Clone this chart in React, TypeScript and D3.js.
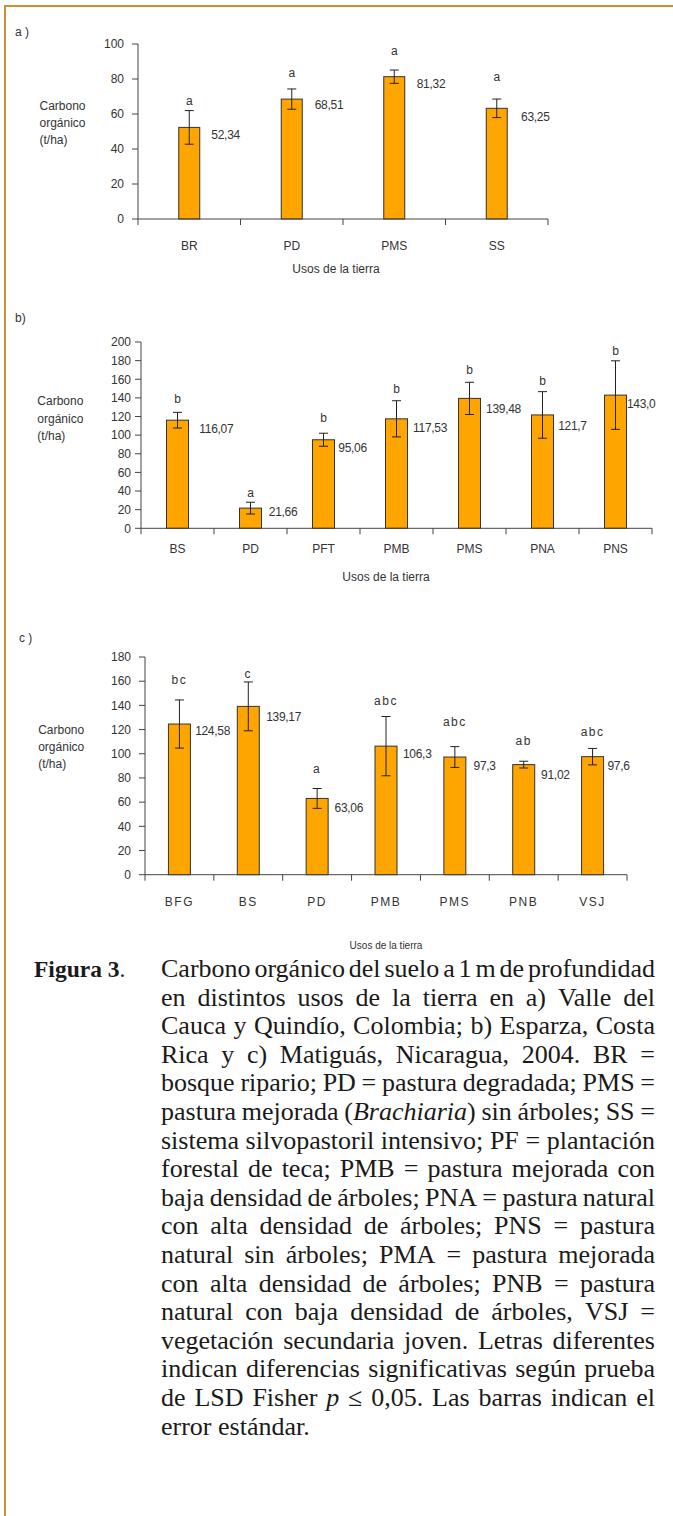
import React, { useMemo } from 'react';
import * as d3 from 'd3';

// ---------- Panel a ----------
const catsA = ['BR', 'PD', 'PMS', 'SS'];
const valsA = [52.34, 68.51, 81.32, 63.25];
const errA = [9.6, 5.8, 3.8, 5.3];
const lettersA = ['a', 'a', 'a', 'a'];
const labelsA = ['52,34', '68,51', '81,32', '63,25'];
const ticksA = [0, 20, 40, 60, 80, 100];
const letterYA = [67.6, 83.6, 96.2, 81.3];

// ---------- Panel b ----------
const catsB = ['BS', 'PD', 'PFT', 'PMB', 'PMS', 'PNA', 'PNS'];
const valsB = [116.07, 21.66, 95.06, 117.53, 139.48, 121.7, 143.0];
const errB = [8.4, 6.3, 7, 19.4, 17.3, 25, 36.8];
const lettersB = ['b', 'a', 'b', 'b', 'b', 'b', 'b'];
const labelsB = ['116,07', '21,66', '95,06', '117,53', '139,48', '121,7', '143,0'];
const ticksB = [0, 20, 40, 60, 80, 100, 120, 140, 160, 180, 200];
const letterYB = [138.9, 38.2, 118.7, 149.5, 169.9, 158.4, 190.3];

// ---------- Panel c ----------
const catsC = ['BFG', 'BS', 'PD', 'PMB', 'PMS', 'PNB', 'VSJ'];
const valsC = [124.58, 139.17, 63.06, 106.3, 97.3, 91.02, 97.6];
const errC = [19.9, 20.2, 8.2, 24.5, 8.6, 2.8, 6.8];
const lettersC = ['bc', 'c', 'a', 'abc', 'abc', 'ab', 'abc'];
const labelsC = ['124,58', '139,17', '63,06', '106,3', '97,3', '91,02', '97,6'];
const ticksC = [0, 20, 40, 60, 80, 100, 120, 140, 160, 180];
const letterYC = [160.8, 166, 87.7, 143.9, 126, 110.3, 118.3];

const yTitleLines = ['Carbono', 'orgánico', '(t/ha)'];
const xTitle = 'Usos de la tierra';

const captionHead = 'Figura 3';
const captionLines = [
  'Carbono orgánico del suelo a 1 m de profundidad',
  'en distintos usos de la tierra en a) Valle del',
  'Cauca y Quindío, Colombia; b) Esparza, Costa',
  'Rica y c) Matiguás, Nicaragua, 2004. BR =',
  'bosque ripario; PD = pastura degradada; PMS =',
  'pastura mejorada (*Brachiaria*) sin árboles; SS =',
  'sistema silvopastoril intensivo; PF = plantación',
  'forestal de teca; PMB = pastura mejorada con',
  'baja densidad de árboles; PNA = pastura natural',
  'con alta densidad de árboles; PNS = pastura',
  'natural sin árboles; PMA = pastura mejorada',
  'con alta densidad de árboles; PNB = pastura',
  'natural con baja densidad de árboles, VSJ =',
  'vegetación secundaria joven. Letras diferentes',
  'indican diferencias significativas según prueba',
  'de LSD Fisher *p* ≤ 0,05. Las barras indican el',
  'error estándar.',
];

// ---------- layout ----------
const SANS = '"Liberation Sans", Arial, sans-serif';
const SERIF = '"Liberation Serif", "Times New Roman", serif';
const BAR = '#FFA500';
const INK = '#333';

const panels = [
  {
    cats: catsA, vals: valsA, errs: errA, letters: lettersA, labels: labelsA, ticks: ticksA, letterY: letterYA,
    x0: 138, x1: 548, y0: 219, yTop: 44, max: 100, barW: 21, tickGap: 14,
    tag: 'a )', tagX: 15, tagY: 36, yTitleX: 39.5, yTitleY: 109.6,
    catY: 249.5, titleX: 336, titleY: 272.5, titleSize: 12, spacing: 0,
    valDx: [11.6, 12.5, 12, 13.8], valDy: [7, 6, 6.6, 8],
  },
  {
    cats: catsB, vals: valsB, errs: errB, letters: lettersB, labels: labelsB, ticks: ticksB, letterY: letterYB,
    x0: 141, x1: 652, y0: 528.3, yTop: 342, max: 200, barW: 22, tickGap: 10,
    tag: 'b)', tagX: 15, tagY: 322, yTitleX: 37.3, yTitleY: 405.3,
    catY: 552.5, titleX: 386, titleY: 581, titleSize: 12, spacing: 0,
    valDx: [10.8, 7.3, 3.8, 5.6, 5.6, 4.7, 0.4], valDy: [9, 4, 7.6, 9, 10, 10.8, 9],
  },
  {
    cats: catsC, vals: valsC, errs: errC, letters: lettersC, labels: labelsC, ticks: ticksC, letterY: letterYC,
    x0: 145, x1: 627, y0: 874.7, yTop: 657, max: 180, barW: 22, tickGap: 14,
    tag: 'c )', tagX: 19, tagY: 642, yTitleX: 38.2, yTitleY: 733.6,
    catY: 905.5, titleX: 386, titleY: 948.5, titleSize: 10, spacing: 1.5,
    valDx: [4.7, 6.9, 6.4, 6, 7.7, 6.4, 3.9], valDy: [7, 10, 9, 8, 9, 9.7, 9],
  },
];

function Panel({ p }: { p: any }) {
  const x = d3.scaleBand<string>().domain(p.cats).range([p.x0, p.x1]).paddingInner(0).paddingOuter(0);
  const y = d3.scaleLinear().domain([0, p.max]).range([p.y0, p.yTop]);
  const bw = x.bandwidth();
  const bounds = [...p.cats.map((c: string) => x(c) as number), p.x1];
  return (
    <g fontFamily={SANS} fill={INK}>
      <text x={p.tagX} y={p.tagY} fontSize={12}>{p.tag}</text>
      {yTitleLines.map((t, i) => (
        <text key={t} x={p.yTitleX} y={p.yTitleY + i * 17.4} fontSize={12}>{t}</text>
      ))}
      {/* y axis */}
      <line x1={p.x0} x2={p.x0} y1={y(0)} y2={y(p.max)} stroke="#444" strokeWidth={1} />
      {p.ticks.map((t: number) => (
        <g key={t}>
          <line x1={p.x0 - 6} x2={p.x0} y1={y(t)} y2={y(t)} stroke="#444" strokeWidth={1} />
          <text x={p.x0 - p.tickGap} y={y(t) + 4.3} fontSize={12} textAnchor="end">{t}</text>
        </g>
      ))}
      {/* bars */}
      {p.cats.map((c: string, i: number) => {
        const cx = (x(c) as number) + bw / 2;
        const top = y(p.vals[i]);
        const eT = y(p.vals[i] + p.errs[i]);
        const eB = y(p.vals[i] - p.errs[i]);
        return (
          <g key={c}>
            <rect x={cx - p.barW / 2} y={top} width={p.barW} height={y(0) - top} fill={BAR} stroke="#333" strokeWidth={1} />
            <line x1={cx} x2={cx} y1={eT} y2={eB} stroke="#222" strokeWidth={1} />
            <line x1={cx - 4.5} x2={cx + 4.5} y1={eT} y2={eT} stroke="#222" strokeWidth={1} />
            <line x1={cx - 4.5} x2={cx + 4.5} y1={eB} y2={eB} stroke="#222" strokeWidth={1} />
            <text x={cx} y={y(p.letterY[i]) + 4} fontSize={12} textAnchor="middle" letterSpacing={p.spacing}>{p.letters[i]}</text>
            <text x={cx + p.barW / 2 + p.valDx[i]} y={top + p.valDy[i] + 4.3} fontSize={12} letterSpacing={-0.3}>{p.labels[i]}</text>
            <text x={cx} y={p.catY} fontSize={12} textAnchor="middle" letterSpacing={p.spacing}>{c}</text>
          </g>
        );
      })}
      {/* x axis */}
      <line x1={p.x0} x2={p.x1} y1={y(0)} y2={y(0)} stroke="#444" strokeWidth={1} />
      {bounds.map((b: number, i: number) => (
        <line key={i} x1={b} x2={b} y1={y(0)} y2={y(0) + 6} stroke="#444" strokeWidth={1} />
      ))}
      <text x={p.titleX} y={p.titleY} fontSize={p.titleSize} textAnchor="middle">{xTitle}</text>
    </g>
  );
}

const CAP_FS = 26;
const HEAD_FS = 23.5;
const CAP_X0 = 161;
const CAP_X1 = 655;
const CAP_Y0 = 977;
const CAP_DY = 28.6;

type Seg = { t: string; it: boolean };

function parseWord(w: string): Seg[] {
  const parts = w.split('*');
  return parts.map((t, i) => ({ t, it: i % 2 === 1 })).filter((s) => s.t.length > 0);
}

function Caption() {
  const layout = useMemo(() => {
    const canvas = document.createElement('canvas');
    const ctx = canvas.getContext('2d') as CanvasRenderingContext2D;
    const measure = (s: Seg) => {
      ctx.font = `${s.it ? 'italic ' : ''}${CAP_FS}px "Liberation Serif"`;
      return ctx.measureText(s.t).width;
    };
    ctx.font = `${CAP_FS}px "Liberation Serif"`;
    const space = ctx.measureText(' ').width;
    return captionLines.map((line, li) => {
      const words = line.split(' ').map(parseWord);
      const widths = words.map((segs) => segs.reduce((a, s) => a + measure(s), 0));
      const total = widths.reduce((a, b) => a + b, 0);
      const last = li === captionLines.length - 1;
      const gap = last || words.length < 2 ? space : (CAP_X1 - CAP_X0 - total) / (words.length - 1);
      let cx = CAP_X0;
      return words.map((segs, wi) => {
        const xx = cx;
        cx += widths[wi] + gap;
        return { segs, x: xx };
      });
    });
  }, []);
  return (
    <g fontFamily={SERIF} fill="#1a1a1a" fontSize={CAP_FS}>
      <text x={34} y={CAP_Y0} fontSize={HEAD_FS}>
        <tspan fontWeight="bold">{captionHead}</tspan>.
      </text>
      {layout.map((words, li) =>
        words.map((w, wi) => (
          <text key={li + '-' + wi} x={w.x} y={CAP_Y0 + li * CAP_DY}>
            {w.segs.map((s, si) => (
              <tspan key={si} fontStyle={s.it ? 'italic' : 'normal'}>{s.t}</tspan>
            ))}
          </text>
        ))
      )}
    </g>
  );
}

export default function App() {
  return (
    <svg width={673} height={1516} style={{ position: 'absolute', left: 0, top: 0, background: '#fff' }}>
      <rect x={0} y={0} width={673} height={1516} fill="#fff" />
      <path d="M5,1516 V6 H673" fill="none" stroke="#C8923A" strokeWidth={2} />
      {panels.map((p, i) => (
        <Panel key={i} p={p} />
      ))}
      <Caption />
    </svg>
  );
}
